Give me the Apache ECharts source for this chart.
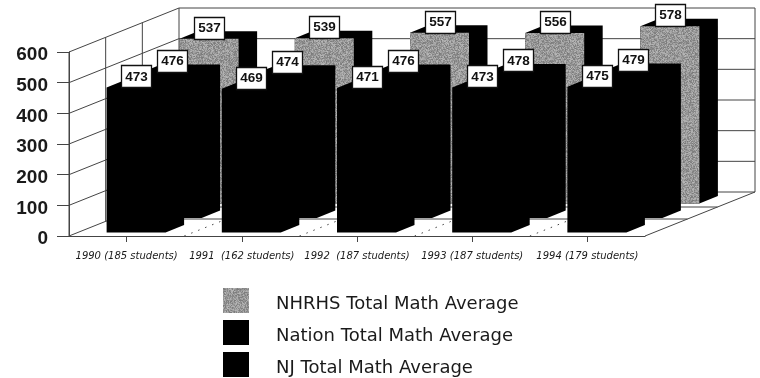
<!DOCTYPE html>
<html>
<head>
<meta charset="utf-8">
<style>html,body{margin:0;padding:0;background:#fff}#chart{width:760px;height:378px}</style>
<script src="https://cdn.jsdelivr.net/npm/echarts@6/dist/echarts.min.js"></script>
</head>
<body>
<div id="chart"></div>
<script>
// Math averages by graduating class
const categories = ['1990 (185 students)', '1991  (162 students)', '1992  (187 students)', '1993 (187 students)', '1994 (179 students)'];
const yTicks = [0, 100, 200, 300, 400, 500, 600];
const nhrhs = [537, 539, 557, 556, 578];
const nation = [476, 474, 476, 478, 479];
const nj = [473, 469, 471, 473, 475];

// Depth of the box behind the front plane, in pixels
const DEPTH_X = 110, DEPTH_Y = 44;
const BAR_W = 59, SIDE_X = 18.5, SIDE_Y = 7.5;
const INK = '#000';
const LINE = '#444';

// Stippled grey fill, built once from a small integer hash so it repeats identically
function stipple() {
  const c = document.createElement('canvas');
  c.width = c.height = 128;
  const g = c.getContext('2d');
  let h = 12345;
  for (let y = 0; y < 128; y++) {
    for (let x = 0; x < 128; x++) {
      h = (h * 1103515 + 12345) & 0x7fffffff;
      const v = 122 + ((h >> 12) % 62);
      g.fillStyle = 'rgb(' + v + ',' + v + ',' + v + ')';
      g.fillRect(x, y, 1, 1);
    }
  }
  return c;
}
const GREY = { image: stipple(), repeat: 'repeat' };

function seg(x1, y1, x2, y2, dashed) {
  return {
    type: 'line', silent: true,
    shape: { x1, y1, x2, y2 },
    style: { stroke: LINE, lineWidth: 1, lineDash: dashed ? [1.5, 6] : null }
  };
}

// Walls and floor of the box; one item per value tick
function renderFrame(params, api) {
  const v = api.value(1);
  const sys = params.coordSys;
  const x0 = sys.x, x1 = sys.x + sys.width;
  const y = api.coord([0, v])[1];
  const kids = [
    seg(x0, y, x0 + DEPTH_X, y - DEPTH_Y),
    seg(x0 + DEPTH_X, y - DEPTH_Y, x1 + DEPTH_X, y - DEPTH_Y)
  ];
  if (v === 0) {
    const yTop = sys.y;
    kids.push(seg(x1, y, x1 + DEPTH_X, y - DEPTH_Y));
    kids.push(seg(x1 + DEPTH_X, y - DEPTH_Y, x1 + DEPTH_X, yTop - DEPTH_Y));
    kids.push(seg(x0 + DEPTH_X, y - DEPTH_Y, x0 + DEPTH_X, yTop - DEPTH_Y));
    kids.push(seg(x0, y, x0, yTop));
    // Verticals on the left wall
    [1 / 3, 2 / 3].forEach(f => {
      const dx = DEPTH_X * f, dy = DEPTH_Y * f;
      kids.push(seg(x0 + dx, y - dy, x0 + dx, yTop - dy));
    });
    // Row dividers across the floor
    [17, 29].forEach(dy => {
      const dx = dy * DEPTH_X / DEPTH_Y;
      kids.push(seg(x0 + dx, y - dy, x1 + dx, y - dy));
    });
    // Dotted category dividers on the floor
    const step = sys.width / categories.length;
    for (let i = 1; i < categories.length; i++) {
      const fx = x0 + step * i;
      kids.push(seg(fx, y, fx + DEPTH_X, y - DEPTH_Y, true));
    }
  }
  return { type: 'group', children: kids };
}

// Extruded bar: offX/offY place the row on the floor relative to the category centre
function barRenderer(offX, offY, frontFill) {
  return function (params, api) {
    const idx = api.value(0), val = api.value(1);
    const top = api.coord([idx, val]);
    const base = api.coord([idx, 0]);
    const l = base[0] + offX, r = l + BAR_W;
    const b = base[1] + offY, t = top[1] + offY;
    const cx = l + BAR_W / 2;
    const children = [
      // Whole silhouette in black, so the top and side have no seam
      {
        type: 'polygon',
        shape: { points: [[l, t], [l + SIDE_X, t - SIDE_Y], [r + SIDE_X, t - SIDE_Y], [r + SIDE_X, b - SIDE_Y], [r, b], [l, b]] },
        style: { fill: INK, stroke: null }
      }
    ];
    if (frontFill !== INK) {
      children.push({
        type: 'polygon',
        shape: { points: [[l, t], [r, t], [r, b], [l, b]] },
        style: { fill: frontFill, stroke: null }
      });
    }
    children.push(
      {
        type: 'rect',
        shape: { x: Math.round(cx - 15) + 0.5, y: Math.round(t - 22) + 0.5, width: 30, height: 22 },
        style: { fill: '#fff', stroke: '#111', lineWidth: 1.3 }
      },
      {
        type: 'text',
        style: {
          x: Math.round(cx - 15) + 15.5, y: t - 10.5, text: String(val), align: 'center', verticalAlign: 'middle',
          fill: '#111', font: 'bold 13.5px "Liberation Sans", Arial, sans-serif'
        }
      }
    );
    return { type: 'group', children };
  };
}

function points(values) {
  return values.map((v, i) => [i, v]);
}

const chart = echarts.init(document.getElementById('chart'), null, { renderer: 'canvas' });
chart.setOption({
  animation: false,
  backgroundColor: '#fff',
  tooltip: { show: false },
  grid: { left: 69, right: 115, top: 52, bottom: 142, containLabel: false },
  legend: {
    orient: 'vertical', left: 223, top: 288, padding: 0,
    itemWidth: 26, itemHeight: 25, itemGap: 6.5,
    icon: 'rect', selectedMode: false,
    data: ['NHRHS Total Math Average', 'Nation Total Math Average', 'NJ Total Math Average'],
    formatter: name => '{t|' + name + '}',
    textStyle: {
      padding: [0, 0, 0, 22],
      rich: { t: { fontFamily: '"DejaVu Sans"', fontSize: 18, color: '#1a1a1a', padding: [8, 0, 0, 0] } }
    }
  },
  xAxis: {
    type: 'category', data: categories, boundaryGap: true,
    axisLine: { show: true, lineStyle: { color: LINE, width: 1 } },
    axisTick: { show: true, alignWithLabel: true, length: 6, lineStyle: { color: LINE } },
    axisLabel: {
      interval: 0, margin: 15.5, color: '#1a1a1a', fontStyle: 'italic',
      fontFamily: '"DejaVu Sans"', fontSize: 10
    }
  },
  yAxis: {
    type: 'value', min: 0, max: 600, interval: 100,
    splitLine: { show: false },
    axisLine: { show: true, lineStyle: { color: LINE, width: 1 } },
    axisTick: { show: true, length: 12, lineStyle: { color: LINE } },
    axisLabel: {
      margin: 21, color: '#1a1a1a', fontWeight: 'bold',
      fontFamily: '"Liberation Sans"', fontSize: 19, verticalAlign: 'top', lineHeight: 6
    }
  },
  series: [
    { type: 'custom', name: 'frame', silent: true, renderItem: renderFrame, data: yTicks.map(v => [0, v]), z: 1 },
    { type: 'custom', name: 'NHRHS Total Math Average', silent: true, renderItem: barRenderer(53, -32.5, GREY), itemStyle: { color: GREY }, data: points(nhrhs), z: 2 },
    { type: 'custom', name: 'Nation Total Math Average', silent: true, renderItem: barRenderer(16, -18, INK), itemStyle: { color: INK }, data: points(nation), z: 3 },
    { type: 'custom', name: 'NJ Total Math Average', silent: true, renderItem: barRenderer(-20, -3.5, INK), itemStyle: { color: INK }, data: points(nj), z: 4 }
  ]
});
</script>
</body>
</html>
